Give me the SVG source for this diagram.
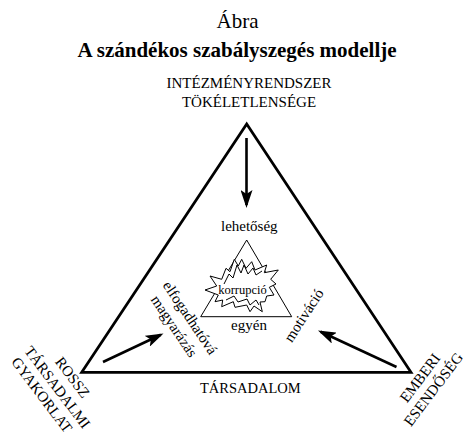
<svg xmlns="http://www.w3.org/2000/svg" width="466" height="436" viewBox="0 0 466 436">
<style>
text{font-family:'Liberation Serif','Times New Roman',Times,'DejaVu Serif',serif;fill:#000}
.t{font-size:21px}
.tb{font-size:21px;font-weight:bold}
.l{font-size:15px}
.k{font-size:12.5px}
.frame{fill:none;stroke:#000;stroke-width:2.8;stroke-linejoin:miter}
.thin{fill:none;stroke:#000;stroke-width:1}
.arr{stroke:#000;stroke-width:2.6;fill:none}
</style>
<defs>
<marker id="ah" markerUnits="userSpaceOnUse" markerWidth="20" markerHeight="12" refX="15" refY="6" orient="auto">
<path d="M0,0 L18,6 L0,12 L4,6 z" fill="#000"/>
</marker>
</defs>
<rect width="466" height="436" fill="#fff"/>
<g font-family="Liberation Serif, Times New Roman, serif">
<text class="t" x="237.5" y="28" text-anchor="middle">Ábra</text>
<text class="tb" x="237" y="56.5" text-anchor="middle">A szándékos szabályszegés modellje</text>

<g id="triangle">
<polygon class="frame" points="246.7,124 81.7,372.3 411,372.3"/>
</g>

<g id="inner">
<polygon class="thin" points="246.7,240 200.7,316.7 291.7,316.7"/>
<polygon fill="#fff" stroke="#000" stroke-width="1" stroke-linejoin="miter" points="210,276 221.7,279.3 226,268.3 230,271.7 234.3,259.3 238.3,266 241.7,259.3 246,268.3 251.7,261.7 255,270 266.7,265 264.3,272.7 278.3,270 270.7,279.3 276,284 269.3,287.3 274,295 266.7,296 265,301.7 260,302 262.3,311.7 254,306 250,311.7 246.7,305 235,307.3 233.3,301.7 221.7,306.7 222.7,300 215,301.7 218.3,295 205,290 216.7,286"/>
<polyline class="thin" points="224,284 229,274 233,278 237,265 241,273 244,265 248,274 253,268 256,275 262,271"/>
<polyline class="thin" points="226,300 234,296 238,302 247,299 250,305 256,300 259,305"/>
<text class="k" x="242.5" y="294.3" text-anchor="middle">korrupció</text>
</g>

<g id="connectors">
<line class="arr" x1="246.5" y1="138" x2="246.5" y2="205" marker-end="url(#ah)"/>
<line class="arr" x1="103" y1="362" x2="160.8" y2="334.8" marker-end="url(#ah)"/>
<line class="arr" x1="396.5" y1="367" x2="320.7" y2="331.8" marker-end="url(#ah)"/>
</g>

<g id="top-label">
<text class="l" x="249" y="88.3" text-anchor="middle">INTÉZMÉNYRENDSZER</text>
<text class="l" x="249" y="107.3" text-anchor="middle">TÖKÉLETLENSÉGE</text>
</g>
<g id="lehetoseg"><text class="l" x="249.3" y="230.7" text-anchor="middle">lehetőség</text></g>
<g id="egyen"><text class="l" x="249" y="330" text-anchor="middle">egyén</text></g>
<g id="tarsadalom"><text class="l" x="250.3" y="393.3" text-anchor="middle" style="font-size:14.5px">TÁRSADALOM</text></g>
<g id="elfogadhato" transform="translate(186,320.5) rotate(56)">
<text class="l" x="0" y="0" text-anchor="middle">elfogadhatóvá</text>
<text class="l" x="-2" y="18" text-anchor="middle">magyarázás</text>
</g>
<g id="motivacio" transform="translate(308,318) rotate(-57)">
<text class="l" x="0" y="0" text-anchor="middle">motiváció</text>
</g>
<g id="rossz" transform="translate(68.5,380.5) rotate(53)">
<text class="l" x="0" y="0" text-anchor="middle">ROSSZ</text>
<text class="l" x="-1.3" y="18" text-anchor="middle">TÁRSADALMI</text>
<text class="l" x="-4.5" y="35" text-anchor="middle">GYAKORLAT</text>
</g>
<g id="emberi" transform="translate(424,381) rotate(-53)">
<text class="l" x="0" y="0" text-anchor="middle">EMBERI</text>
<text class="l" x="-1" y="17.5" text-anchor="middle">ESENDŐSÉG</text>
</g>
</g>
</svg>
